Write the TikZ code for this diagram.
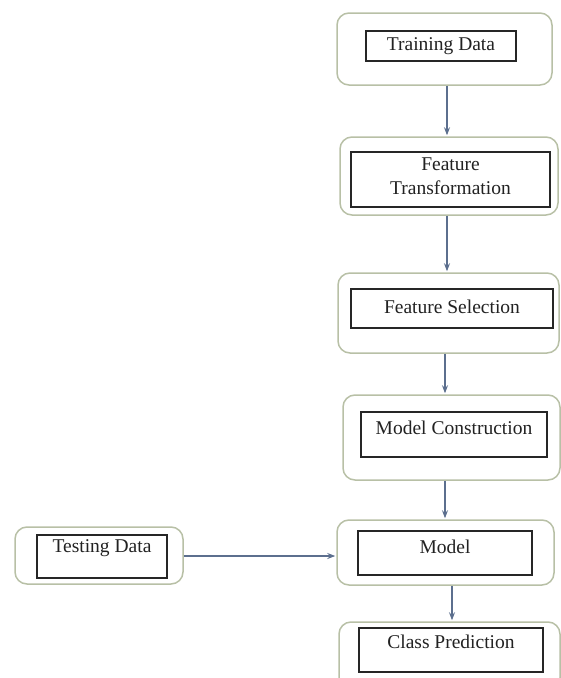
\documentclass[tikz,border=0pt]{standalone}
\usepackage{fontspec}
\setmainfont{Liberation Serif}
\usetikzlibrary{arrows.meta}
\definecolor{outerc}{HTML}{B8C0A6}
\definecolor{arrc}{HTML}{5C6F8E}
\definecolor{txtc}{HTML}{222222}
\tikzset{
  outerbox/.style={draw=outerc, line width=1.5pt, rounded corners=12pt, fill=white, inner sep=0pt},
  innerbox/.style={draw=black!85, line width=1.6pt, inner sep=0pt},
  lbl/.style={text=txtc, font=\fontsize{19.5}{24}\selectfont, inner sep=0pt, align=center},
  arr/.style={draw=arrc, line width=1.1pt, -{Stealth[length=8pt,width=6pt]}, shorten >=1pt}
}
\begin{document}
\begin{tikzpicture}[x=1pt,y=-1pt]
\useasboundingbox (0,0) rectangle (561,678);
% Training Data
\node[outerbox, minimum width=215pt, minimum height=72pt] (tdo) at (444.5,49) {};
\node[innerbox, minimum width=150pt, minimum height=30pt] (tdi) at (441,46) {};
\node[lbl] (tdt) at (441,46) {Training Data};
% Feature Transformation
\node[outerbox, minimum width=218pt, minimum height=78pt] (fto) at (449,176) {};
\node[innerbox, minimum width=199pt, minimum height=55pt] (fti) at (450.5,179.5) {};
\node[lbl] (ftt) at (450.5,176.5) {Feature\\Transformation};
% Feature Selection
\node[outerbox, minimum width=221pt, minimum height=80pt] (fso) at (448.5,313) {};
\node[innerbox, minimum width=202pt, minimum height=39pt] (fsi) at (452,308.5) {};
\node[lbl] (fst) at (452,307) {Feature Selection};
% Model Construction
\node[outerbox, minimum width=217pt, minimum height=85pt] (mco) at (451.5,437.5) {};
\node[innerbox, minimum width=186pt, minimum height=45pt] (mci) at (454,434.5) {};
\node[lbl] (mct) at (454,428) {Model Construction};
% Model
\node[outerbox, minimum width=217pt, minimum height=65pt] (mo) at (445.5,552.5) {};
\node[innerbox, minimum width=174pt, minimum height=44pt] (mi) at (445,553) {};
\node[lbl] (mt) at (445,547) {Model};
% Testing Data
\node[outerbox, minimum width=168pt, minimum height=57pt] (teo) at (99,555.5) {};
\node[innerbox, minimum width=130pt, minimum height=43pt] (tei) at (102,556.5) {};
\node[lbl] (tet) at (102,548) {Testing Data};
% Class Prediction
\node[outerbox, minimum width=221pt, minimum height=68pt] (cpo) at (449.5,656) {};
\node[innerbox, minimum width=184pt, minimum height=44pt] (cpi) at (451,650) {};
\node[lbl] (cpt) at (451,642) {Class Prediction};
% arrow columns
\coordinate (c1) at (447,0);
\coordinate (c2) at (447,0);
\coordinate (c3) at (445,0);
\coordinate (c4) at (445,0);
\coordinate (c5) at (452,0);
\coordinate (r1) at (0,556);
\draw[arr] (tdo.south -| c1) -- (fto.north -| c1);
\draw[arr] (fto.south -| c2) -- (fso.north -| c2);
\draw[arr] (fso.south -| c3) -- (mco.north -| c3);
\draw[arr] (mco.south -| c4) -- (mo.north -| c4);
\draw[arr] (mo.south -| c5) -- (cpo.north -| c5);
\draw[arr] (teo.east |- r1) -- (mo.west |- r1);
\end{tikzpicture}
\end{document}
